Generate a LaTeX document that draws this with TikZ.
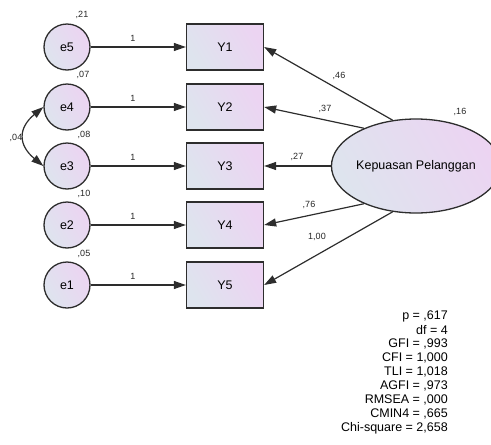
\documentclass[tikz,border=0pt]{standalone}
\usepackage{fontspec}
\setmainfont{Liberation Sans}
\usetikzlibrary{arrows.meta,shapes.geometric}
\definecolor{edge}{RGB}{45,45,45}
\definecolor{fillA}{RGB}{222,228,238}
\definecolor{fillB}{RGB}{236,212,242}
\tikzset{
  base/.style={draw=edge,line width=1.3pt,left color=fillA,right color=fillB,shading angle=120},
  errc/.style={base,circle,minimum size=46pt,inner sep=0pt,font=\fontsize{12.5}{14}\selectfont},
  obs/.style={base,rectangle,minimum width=77pt,minimum height=46pt,inner sep=0pt,font=\fontsize{12.5}{14}\selectfont},
  lat/.style={base,ellipse,minimum width=146pt,minimum height=94pt,inner sep=0pt,font=\fontsize{12.5}{14}\selectfont},
  path/.style={draw=edge,line width=1.2pt,-{Triangle[length=12pt,width=8pt]}},
  num/.style={font=\fontsize{9}{10}\selectfont,text=black!85,inner sep=0pt},
  fit/.style={font=\fontsize{12.5}{14}\selectfont,anchor=east,inner sep=0pt}
}
\begin{document}
\begin{tikzpicture}[x=1pt,y=-1pt]
\useasboundingbox (0,0) rectangle (491,445);
% error terms
\node[errc] (e5) at (67,47) {e5};
\node[errc] (e4) at (67,107) {e4};
\node[errc] (e3) at (67,166) {e3};
\node[errc] (e2) at (67,225) {e2};
\node[errc] (e1) at (67,285) {e1};
% indicators
\node[obs] (Y1) at (225,47) {Y1};
\node[obs] (Y2) at (225,107) {Y2};
\node[obs] (Y3) at (225,166) {Y3};
\node[obs] (Y4) at (225,225) {Y4};
\node[obs] (Y5) at (225,285) {Y5};
% latent variable
\node[lat] (K) at (416,166) {Kepuasan Pelanggan};
% error paths
\foreach \i/\y in {5/1,4/2,3/3,2/4,1/5}{
  \draw[path] (e\i) -- (Y\y);
}
\foreach \y in {38,98,157,216,276}{
  \node[num] at (133,\y) {1};
}
% variances
\node[num] at (82,15) {,21};
\node[num] at (83,75) {,07};
\node[num] at (84,135) {,08};
\node[num] at (84,194) {,10};
\node[num] at (84,254) {,05};
\node[num] at (460,112) {,16};
% covariance e4 <-> e3
\draw[draw=edge,line width=1.2pt,{Triangle[length=12pt,width=8pt]}-{Triangle[length=12pt,width=8pt]}]
  (e4.west) .. controls (18,128) and (18,145) .. (e3.west);
\node[num] at (16,138) {,04};
% loadings
\draw[path] (K.117) -- (Y1.east);
\draw[path] (K.144) -- (Y2.east);
\draw[path] (K.west) -- (Y3.east);
\draw[path] (K.216) -- (Y4.east);
\draw[path] (K.243) -- (Y5.east);
\node[num] at (339,76) {,46};
\node[num] at (325,109) {,37};
\node[num] at (297,157) {,27};
\node[num] at (309,205) {,76};
\node[num] at (317,237) {1,00};
% fit statistics
\node[fit] at (448,316) {p = ,617};
\node[fit] at (448,330) {df = 4};
\node[fit] at (448,344) {GFI = ,993};
\node[fit] at (448,358) {CFI = 1,000};
\node[fit] at (448,372) {TLI = 1,018};
\node[fit] at (448,386) {AGFI = ,973};
\node[fit] at (448,400) {RMSEA = ,000};
\node[fit] at (448,414) {CMIN4 = ,665};
\node[fit] at (448,428) {Chi-square = 2,658};
\end{tikzpicture}
\end{document}
